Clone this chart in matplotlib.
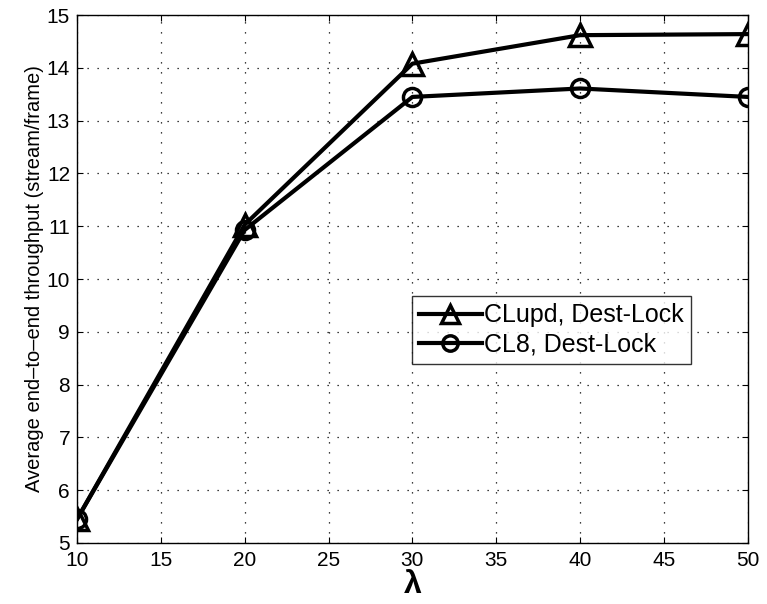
import matplotlib
matplotlib.use("Agg")
import matplotlib.pyplot as plt

plt.rcParams['font.family'] = ['Liberation Sans', 'DejaVu Sans']

lam = [10, 20, 30, 40, 50]
clupd = [5.45, 11.03, 14.08, 14.62, 14.64]
cl8 = [5.45, 10.93, 13.45, 13.61, 13.45]
labels = ["CLupd, Dest-Lock", "CL8, Dest-Lock"]

fig = plt.figure(figsize=(7.67, 6.04), dpi=100)
ax = fig.add_axes([0.1004, 0.101, 0.8746, 0.874])

ax.plot(lam, clupd, color='black', lw=3, marker='^', ms=16, mfc='none',
        mec='black', mew=2.5, label=labels[0])
ax.plot(lam, cl8, color='black', lw=3, marker='o', ms=13, mfc='none',
        mec='black', mew=2.5, label=labels[1])

ax.set_xlim(10, 50)
ax.set_ylim(5, 15)
ax.set_xticks(range(10, 51, 5))
ax.set_yticks(range(5, 16))
ax.tick_params(direction='in', labelsize=15, length=4, top=True, right=True)
ax.tick_params(axis='x', pad=6)
ax.tick_params(axis='y', pad=5)
ax.grid(True, color='black', linestyle=(0, (1, 7)), linewidth=0.9)
for s in ax.spines.values():
    s.set_linewidth(1.0)

ax.set_ylabel("Average end\u2013to\u2013end throughput (stream/frame)", fontsize=14.5,
              labelpad=2)
ax.set_xlabel("\u03bb", fontsize=23, fontweight='bold', labelpad=0)

leg = ax.legend(loc='upper left', bbox_to_anchor=(0.499, 0.468), fontsize=18,
                frameon=True, fancybox=False, edgecolor='black',
                borderpad=0.3, handlelength=2.5, handletextpad=0.1,
                labelspacing=0.2, borderaxespad=0, markerscale=0.85)
leg.get_frame().set_linewidth(1.0)

fig.savefig("out.png", dpi=100)
